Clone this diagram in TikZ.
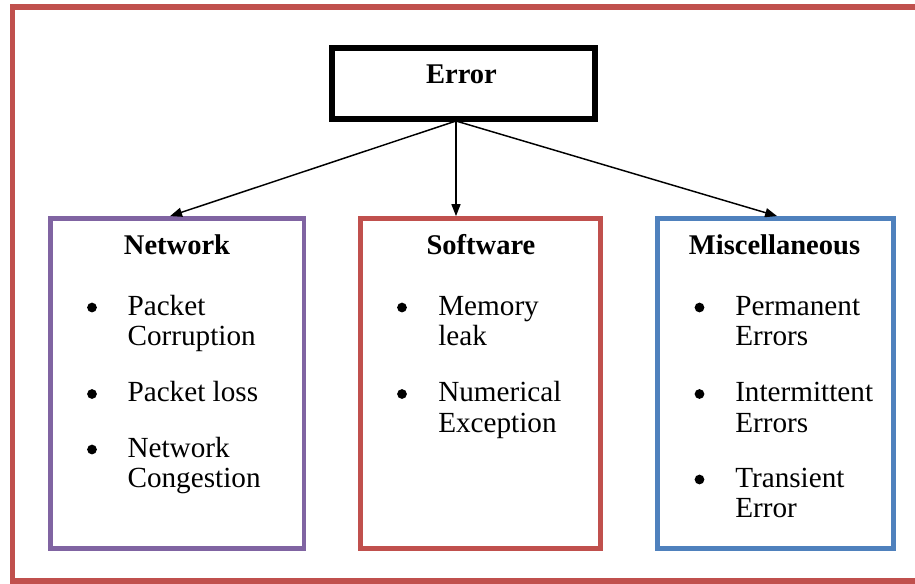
\documentclass[tikz,border=0pt]{standalone}
\usepackage{fontspec}
\setmainfont{Liberation Serif}
\usetikzlibrary{arrows.meta}
\definecolor{framered}{HTML}{C0504D}
\definecolor{netpurple}{HTML}{8064A2}
\definecolor{swred}{HTML}{C0504D}
\definecolor{miscblue}{HTML}{4F81BD}
\begin{document}
\begin{tikzpicture}[x=0.75pt,y=-0.75pt,
  catbox/.style={draw, line width=3.6pt, rectangle, inner sep=0pt, minimum height=247.5pt},
  errbox/.style={draw=black, line width=4.5pt, rectangle, inner sep=0pt, minimum width=197.25pt, minimum height=52.9pt},
  heading/.style={anchor=base, inner sep=0pt, font=\fontsize{21.4}{24}\selectfont\bfseries},
  itemtext/.style={anchor=base west, inner sep=0pt, font=\fontsize{21.9}{24}\selectfont},
  dot/.style={circle, fill=black, inner sep=0pt, minimum size=7.3pt},
  arr/.style={draw=black, line width=1.1pt, -{Triangle[length=9pt,width=6.8pt]}},
  frame/.style={draw=framered, line width=3.8pt}]
\clip (0,0) rectangle (915,583);
\draw[frame] (12.5,7) rectangle (960,581);

% Error box
\node[errbox] (err) at (463.5,83.25) {};
\node[heading] (errt) at (461.5,83) {Error};
\coordinate (src) at (456,121);

% category boxes
\node[catbox, draw=netpurple, minimum width=190.1pt] (net) at (177.25,383.5) {};
\node[catbox, draw=swred, minimum width=180pt] (sw) at (480.5,383.5) {};
\node[catbox, draw=miscblue, minimum width=177pt] (misc) at (775.5,383.5) {};

% arrows
\draw[arr] (src) -- ([xshift=-5.4pt]net.north);
\draw[arr] (src) -- (src |- sw.north);
\draw[arr] (src) -- ([xshift=1.2pt]misc.north);

% headings
\node[heading] (neth) at (177,254) {Network};
\node[heading] (swh) at (481,254) {Software};
\node[heading] (misch) at (774.5,254) {Miscellaneous};

% Network items
\node[dot] (nb1) at (92,307.5) {};
\node[itemtext] (n1a) at (127.3,315) {Packet};
\node[itemtext] (n1b) at (127.3,345.5) {Corruption};
\node[dot] (nb2) at (92,394) {};
\node[itemtext] (n2a) at (127.3,401.5) {Packet loss};
\node[dot] (nb3) at (92,449.5) {};
\node[itemtext] (n3a) at (127.3,457) {Network};
\node[itemtext] (n3b) at (127.3,487.5) {Congestion};

% Software items
\node[dot] (sb1) at (402,307.5) {};
\node[itemtext] (s1a) at (438,315) {Memory};
\node[itemtext] (s1b) at (438,345.5) {leak};
\node[dot] (sb2) at (402,394) {};
\node[itemtext] (s2a) at (438,401.5) {Numerical};
\node[itemtext] (s2b) at (438,432) {Exception};

% Miscellaneous items
\node[dot] (mb1) at (699.5,307.5) {};
\node[itemtext] (m1a) at (735,315) {Permanent};
\node[itemtext] (m1b) at (735,345.5) {Errors};
\node[dot] (mb2) at (699.5,394) {};
\node[itemtext] (m2a) at (735,401.5) {Intermittent};
\node[itemtext] (m2b) at (735,432) {Errors};
\node[dot] (mb3) at (699.5,479.5) {};
\node[itemtext] (m3a) at (735,487) {Transient};
\node[itemtext] (m3b) at (735,517.5) {Error};
\end{tikzpicture}
\end{document}
